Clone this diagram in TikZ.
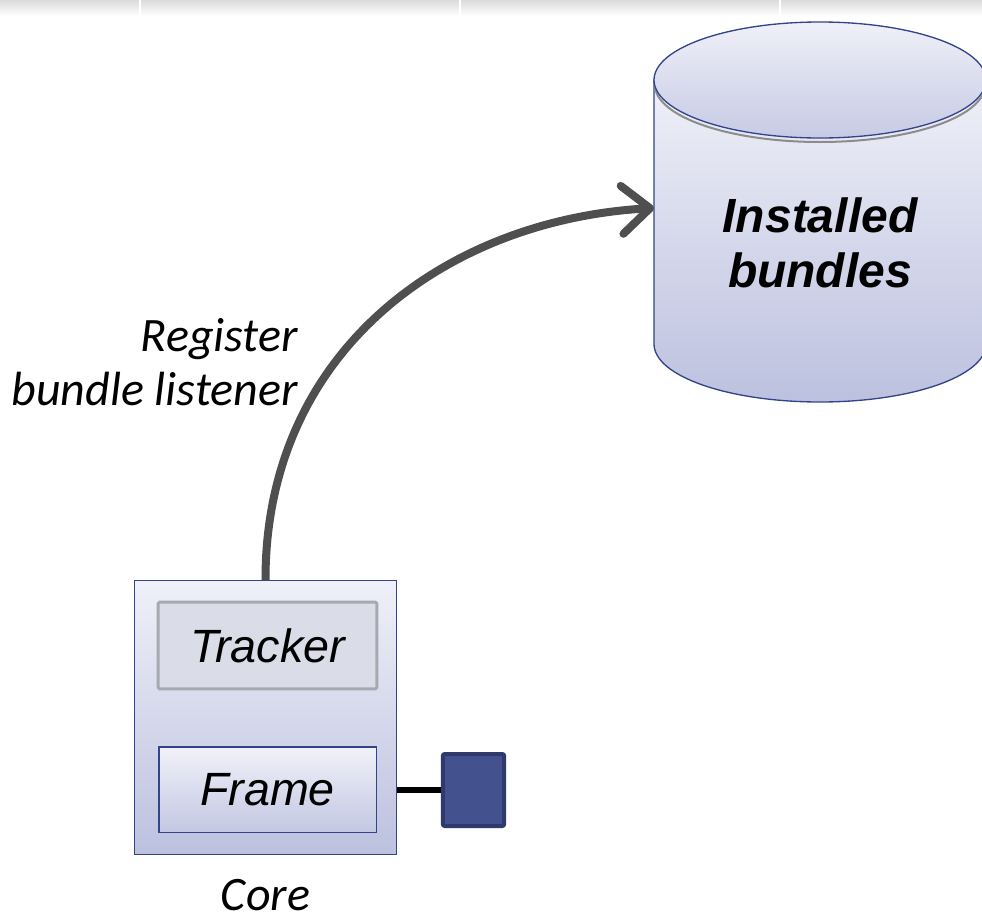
\documentclass[tikz,border=0pt]{standalone}
\usepackage{fontspec}
\usepackage{tikz}
\usetikzlibrary{arrows.meta,positioning,calc}
\newfontfamily\arialfont{Liberation Sans}
\newfontfamily\califont{Carlito}
\definecolor{navy}{HTML}{34448A}
\definecolor{paletop}{HTML}{EFF0F8}
\definecolor{palebot}{HTML}{BCC1DF}
\definecolor{trackfill}{HTML}{DADDE8}
\definecolor{trackline}{HTML}{A8A9B0}
\definecolor{portfill}{HTML}{43528F}
\definecolor{portline}{HTML}{2F3A6B}
\definecolor{flowgray}{HTML}{4F4F4F}

\begin{document}
\begin{tikzpicture}[
  x=0.75pt,y=-0.75pt,
  every node/.style={align=center},
  corebox/.style={draw=navy,line width=0.8pt,top color=paletop,bottom color=palebot,
              minimum width=196pt,minimum height=205pt},
  trackbox/.style={draw=trackline,line width=2.2pt,rounded corners=1pt,fill=trackfill,
              minimum width=164pt,minimum height=65pt,
              font=\arialfont\itshape\fontsize{35}{40}\selectfont},
  framebox/.style={draw=navy,line width=1pt,top color=paletop!90!white,bottom color=palebot!90!white,
              minimum width=163pt,minimum height=64pt,
              font=\arialfont\itshape\fontsize{35}{40}\selectfont},
  portbox/.style={draw=portline,line width=3pt,rounded corners=1.5pt,fill=portfill,
              minimum width=46pt,minimum height=54pt},
  note/.style={font=\califont\itshape\fontsize{36}{41}\selectfont,inner sep=0pt},
  flow/.style={-{Straight Barb[length=21pt,width=36pt,round]},line width=6pt,flowgray},
  link/.style={line width=5pt,black}
]
\useasboundingbox (0,0) rectangle (982,921);
% header strip
\shade[top color=black!14,bottom color=white] (0,0) rectangle (982,16);
\foreach \xx in {140,460,780}
  \draw[white,line width=1.5pt] (\xx,0) -- (\xx,16);

% installed bundles store
\shade[draw=navy,line width=1pt,top color=paletop,bottom color=palebot]
  (654,80) -- (654,344) arc[start angle=180,end angle=0,x radius=166,y radius=58]
  -- (986,80) -- cycle;
\draw[black!45,line width=1.5pt] (655,85) arc[start angle=180,end angle=0,x radius=165,y radius=57];
\shade[draw=navy,line width=1pt,top color=paletop,bottom color=palebot!85!white]
  (820,80) ellipse[x radius=166,y radius=58];
\node[font=\arialfont\bfseries\itshape\fontsize{36}{41}\selectfont] (inst) at (820,243) {Installed\\bundles};
\coordinate (dbin) at (654,208);

% core with its parts
\node[corebox] (core) at (265.5,717.5) {};
\node[trackbox] (tracker) at (267.5,645.5) {Tracker};
\node[framebox] (frame) at (267.5,789.5) {Frame};
\node[portbox] (port) at (473.5,790) {};
\node[note,below=18pt of core] (corelbl) {Core};
\node[note,align=right,anchor=east] (reg) at (298,362) {Register\\bundle listener};

\draw[link] (core.east |- port.west) -- (port.west);
\draw[flow] (core.north) .. controls (265,352) and (445,220) .. (dbin);
\end{tikzpicture}
\end{document}
